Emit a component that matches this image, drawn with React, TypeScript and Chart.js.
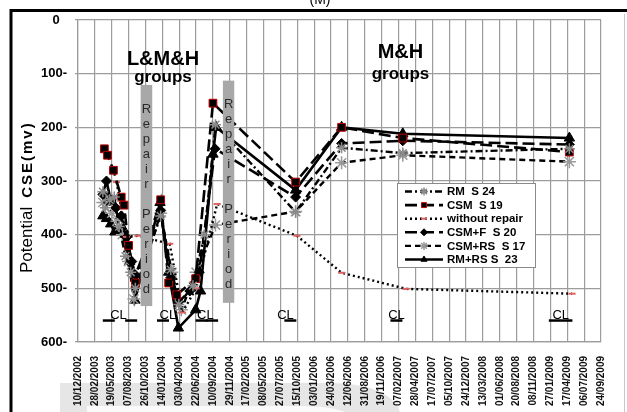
import React, { useEffect, useRef } from 'react';
import { Chart, registerables } from 'chart.js';
import { drawPoint } from 'chart.js/helpers';

Chart.register(...registerables);

const FONT = '"Liberation Sans", Arial, sans-serif';

// x values are days counted from 10/12/2002; ticks every 80 days
const TICK_STEP = 80;
const tickLabels = [
  '10/12/2002', '28/02/2003', '19/05/2003', '07/08/2003', '26/10/2003', '14/01/2004',
  '03/04/2004', '22/06/2004', '10/09/2004', '29/11/2004', '17/02/2005', '08/05/2005',
  '27/07/2005', '15/10/2005', '03/01/2006', '24/03/2006', '12/06/2006', '31/08/2006',
  '19/11/2006', '07/02/2007', '28/04/2007', '17/07/2007', '05/10/2007', '24/12/2007',
  '13/03/2008', '01/06/2008', '20/08/2008', '08/11/2008', '27/01/2009', '17/04/2009',
  '06/07/2009', '24/09/2009',
];
const yTicks = [0, 100, 200, 300, 400, 500, 600];

// RM S 24
const rmDays = [118, 130, 150, 172, 195, 225, 250, 272, 392, 440, 478, 545, 600, 652, 1032, 1250, 1540, 2330];
const rmValues = [320, 350, 335, 330, 385, 440, 470, 500, 365, 465, 530, 495, 400, 195, 358, 238, 248, 240];
// CSM S 19
const csmDays = [125, 140, 168, 205, 218, 240, 272, 392, 430, 468, 558, 640, 1032, 1250, 1540, 2330];
const csmValues = [240, 252, 280, 330, 345, 420, 490, 335, 490, 512, 482, 155, 302, 200, 220, 246];
// without repair
const noRepairDays = [183, 229, 284, 435, 495, 560, 660, 1038, 1250, 1556, 2343];
const noRepairValues = [302, 404, 402, 417, 545, 500, 343, 402, 471, 501, 510];
// CSM+F S 20
const csmfDays = [118, 135, 155, 180, 205, 230, 255, 272, 392, 440, 478, 530, 575, 650, 1032, 1250, 1540, 2330];
const csmfValues = [325, 300, 335, 350, 365, 405, 450, 475, 355, 480, 525, 505, 470, 240, 330, 230, 225, 232];
// CSM+RS S 17
const csmrsDays = [118, 140, 160, 185, 210, 240, 265, 392, 445, 490, 560, 652, 1032, 1250, 1540, 2330];
const csmrsValues = [340, 330, 360, 375, 400, 450, 520, 360, 470, 540, 470, 382, 357, 266, 252, 264];
// RM+RS S 23
const rmrsDays = [118, 135, 155, 175, 215, 245, 270, 389, 430, 476, 558, 581, 640, 655, 1032, 1250, 1540, 2330];
const rmrsValues = [365, 370, 380, 395, 390, 450, 522, 340, 470, 574, 540, 505, 250, 200, 317, 200, 212, 220];

// CL marks
const clDays = [146, 252, 403, 586, 636, 1007, 1510, 2261, 2316];
const clValues = [560, 560, 560, 560, 560, 560, 560, 560, 560];
const clLabelDays = [192, 426, 604, 984, 1510, 2289];
const clLabelValue = 558;

// Repair periods
const repairStart = [297, 687];
const repairEnd = [352, 741];
const repairTop = [121, 113];
const repairBottom = [533, 527];
const repairText = 'Repair Period';

// group annotations
const groupTitles = ['L&M&H', 'M&H'];
const groupDays = [403, 1529];
const groupTitleValues = [73, 61];
const groupSubValues = [106, 102];

const pts = (d: number[], v: number[]) => d.map((x, i) => ({ x, y: v[i] }));

const overlayPlugin = {
  id: 'overlay',
  beforeDraw(chart: any) {
    const { ctx, width, height } = chart;
    ctx.save();
    ctx.fillStyle = '#fff';
    ctx.fillRect(0, 0, width, height);
    // faint scan swoosh at bottom left
    ctx.fillStyle = '#e6e6e6';
    ctx.beginPath();
    ctx.moveTo(60, 383);
    ctx.lineTo(330, 383);
    ctx.bezierCurveTo(370, 383, 395, 395, 400, 412);
    ctx.lineTo(60, 412);
    ctx.closePath();
    ctx.fill();
    ctx.fillStyle = '#fafafa';
    ctx.beginPath();
    ctx.moveTo(87, 406);
    ctx.lineTo(300, 406);
    ctx.quadraticCurveTo(330, 406, 345, 412);
    ctx.lineTo(87, 412);
    ctx.closePath();
    ctx.fill();
    ctx.restore();
  },
  afterDatasetsDraw(chart: any) {
    const { ctx } = chart;
    const xs = chart.scales.x;
    const ys = chart.scales.y;
    ctx.save();

    // repair period bars
    repairStart.forEach((s, i) => {
      const x0 = xs.getPixelForValue(s);
      const x1 = xs.getPixelForValue(repairEnd[i]);
      const y0 = ys.getPixelForValue(repairTop[i]);
      const y1 = ys.getPixelForValue(repairBottom[i]);
      ctx.fillStyle = '#a8a8a8';
      ctx.fillRect(x0, y0, x1 - x0, y1 - y0);
      ctx.fillStyle = '#2a2a2a';
      ctx.font = `13px ${FONT}`;
      ctx.textAlign = 'center';
      ctx.textBaseline = 'middle';
      repairText.split('').forEach((c, k) => {
        if (c !== ' ') ctx.fillText(c, (x0 + x1) / 2, y0 + 24 + k * 15);
      });
    });

    // CL labels
    ctx.fillStyle = '#000';
    ctx.font = `13px ${FONT}`;
    ctx.textAlign = 'center';
    ctx.textBaseline = 'alphabetic';
    clLabelDays.forEach((d) => {
      ctx.fillText('CL', xs.getPixelForValue(d), ys.getPixelForValue(clLabelValue));
    });

    // group labels
    groupTitles.forEach((t, i) => {
      const x = xs.getPixelForValue(groupDays[i]);
      ctx.font = `bold 20px ${FONT}`;
      ctx.textBaseline = 'middle';
      ctx.fillText(t, x, ys.getPixelForValue(groupTitleValues[i]));
      ctx.font = `bold 17px ${FONT}`;
      ctx.fillText('groups', x, ys.getPixelForValue(groupSubValues[i]));
    });

    // legend
    const lx = 397, ly = 183, lw = 138, lh = 84;
    ctx.fillStyle = '#fff';
    ctx.fillRect(lx, ly, lw, lh);
    ctx.strokeStyle = '#8a8a8a';
    ctx.lineWidth = 1;
    ctx.strokeRect(lx + 0.5, ly + 0.5, lw, lh);
    const items = chart.data.datasets.filter((d: any) => d.label !== 'CL');
    items.forEach((ds: any, i: number) => {
      const y = ly + 8.5 + i * 13.6;
      ctx.save();
      ctx.strokeStyle = ds.borderColor;
      ctx.lineWidth = ds.borderWidth;
      ctx.setLineDash(ds.borderDash || []);
      ctx.beginPath();
      ctx.moveTo(lx + 8, y);
      ctx.lineTo(lx + 46, y);
      ctx.stroke();
      ctx.setLineDash([]);
      ctx.fillStyle = ds.pointBackgroundColor;
      ctx.strokeStyle = ds.pointBorderColor;
      ctx.lineWidth = ds.pointBorderWidth;
      drawPoint(ctx, { pointStyle: ds.pointStyle, rotation: 0, radius: ds.legendRadius, borderWidth: ds.pointBorderWidth }, lx + 27, y);
      ctx.restore();
      ctx.fillStyle = '#000';
      ctx.font = `bold 11.5px ${FONT}`;
      ctx.textAlign = 'left';
      ctx.textBaseline = 'middle';
      ctx.fillText(ds.label, lx + 50, y + 0.5);
    });

    // y axis title
    ctx.save();
    ctx.translate(27, 273);
    ctx.rotate(-Math.PI / 2);
    ctx.fillStyle = '#000';
    ctx.textAlign = 'left';
    ctx.textBaseline = 'middle';
    ctx.font = `17px ${FONT}`;
    ctx.fillText('Potential', 0, 0);
    const w = ctx.measureText('Potential').width;
    ctx.font = `bold 15px ${FONT}`;
    (ctx as any).letterSpacing = '2px';
    ctx.fillText('CSE(mv)', w + 9, 1);
    (ctx as any).letterSpacing = '0px';
    ctx.restore();

    // frame
    ctx.strokeStyle = '#000';
    ctx.lineWidth = 3;
    ctx.beginPath();
    ctx.moveTo(9.5, 10.5);
    ctx.lineTo(627, 10.5);
    ctx.moveTo(11, 10.5);
    ctx.lineTo(11, 412);
    ctx.stroke();
    ctx.strokeStyle = '#c8c8c8';
    ctx.lineWidth = 1;
    ctx.beginPath();
    ctx.moveTo(624.5, 14);
    ctx.lineTo(624.5, 412);
    ctx.stroke();

    // (M)
    ctx.fillStyle = '#000';
    ctx.font = `14px ${FONT}`;
    ctx.textAlign = 'center';
    ctx.textBaseline = 'alphabetic';
    ctx.fillText('(M)', 320, 4);
    ctx.restore();
  },
};

export default function App() {
  const ref = useRef<HTMLCanvasElement | null>(null);

  useEffect(() => {
    if (!ref.current) return;
    const common = { borderColor: '#000', fill: false, tension: 0, showLine: true };
    const chart = new Chart(ref.current, {
      type: 'line',
      data: {
        datasets: [
          {
            ...common, label: 'RM  S 24', data: pts(rmDays, rmValues), borderWidth: 2.4,
            borderDash: [7, 3, 2, 3], pointStyle: 'star', pointRadius: 5.5, legendRadius: 4,
            pointBorderColor: '#8a8a8a', pointBackgroundColor: '#8a8a8a', pointBorderWidth: 1.5,
          },
          {
            ...common, label: 'CSM  S 19', data: pts(csmDays, csmValues), borderWidth: 2.6,
            borderDash: [12, 5], pointStyle: 'rect', pointRadius: 5.5, legendRadius: 3.5,
            pointBorderColor: '#c00000', pointBackgroundColor: '#000', pointBorderWidth: 1,
          },
          {
            ...common, label: 'without repair', data: pts(noRepairDays, noRepairValues), borderWidth: 2.4,
            borderDash: [2, 3], pointStyle: 'line', pointRadius: 3.5, legendRadius: 3,
            pointBorderColor: '#e06060', pointBackgroundColor: '#e06060', pointBorderWidth: 2,
          },
          {
            ...common, label: 'CSM+F  S 20', data: pts(csmfDays, csmfValues), borderWidth: 2.6,
            borderDash: [12, 5], pointStyle: 'rectRot', pointRadius: 5, legendRadius: 3.5,
            pointBorderColor: '#000', pointBackgroundColor: '#000', pointBorderWidth: 1,
          },
          {
            ...common, label: 'CSM+RS  S 17', data: pts(csmrsDays, csmrsValues), borderWidth: 2.4,
            borderDash: [6, 4], pointStyle: 'star', pointRadius: 6.5, legendRadius: 4,
            pointBorderColor: '#999', pointBackgroundColor: '#999', pointBorderWidth: 1.5,
          },
          {
            ...common, label: 'RM+RS S  23', data: pts(rmrsDays, rmrsValues), borderWidth: 2.6,
            borderDash: [], pointStyle: 'triangle', pointRadius: 6, legendRadius: 3.5,
            pointBorderColor: '#000', pointBackgroundColor: '#000', pointBorderWidth: 1,
          },
          {
            label: 'CL', data: pts(clDays, clValues), showLine: false, borderColor: '#000',
            pointStyle: 'line', pointRadius: 6, pointBorderColor: '#000', pointBorderWidth: 2.5,
          },
        ] as any,
      },
      options: {
        responsive: false,
        maintainAspectRatio: false,
        animation: false,
        layout: { padding: { top: 20, right: 7, left: 0, bottom: 0 } },
        plugins: { legend: { display: false }, tooltip: { enabled: false } },
        scales: {
          x: {
            type: 'linear',
            min: 0,
            max: TICK_STEP * (tickLabels.length - 1),
            afterBuildTicks: (s: any) => {
              s.ticks = tickLabels.map((_, i) => ({ value: i * TICK_STEP }));
            },
            afterFit: (s: any) => { s.height = 70; },
            ticks: {
              autoSkip: false,
              minRotation: 90,
              maxRotation: 90,
              padding: 14,
              color: '#111',
              font: { family: FONT, size: 10, weight: 'bold' },
              callback: (v: any) => tickLabels[Math.round(Number(v) / TICK_STEP)] ?? '',
            },
            grid: { color: '#9c9c9c', lineWidth: 1.2, drawTicks: false },
            border: { color: '#9c9c9c', width: 1.2 },
          },
          y: {
            type: 'linear',
            reverse: true,
            min: 0,
            max: 600,
            afterBuildTicks: (s: any) => { s.ticks = yTicks.map((v) => ({ value: v })); },
            afterFit: (s: any) => { s.width = 78; },
            ticks: {
              padding: 8,
              color: '#000',
              font: { family: FONT, size: 13, weight: 'bold' },
              callback: (v: any) => (Number(v) === 0 ? '0  ' : `${v}-`),
            },
            grid: { color: '#9c9c9c', lineWidth: 1.2, tickLength: 3 },
            border: { color: '#9c9c9c', width: 1.2 },
          },
        },
      } as any,
      plugins: [overlayPlugin],
    });
    return () => chart.destroy();
  }, []);

  return (
    <div style={{ position: 'fixed', left: 0, top: 0, width: 627, height: 412, background: '#fff' }}>
      <canvas ref={ref} width={627} height={412} style={{ display: 'block', width: 627, height: 412 }} />
    </div>
  );
}
